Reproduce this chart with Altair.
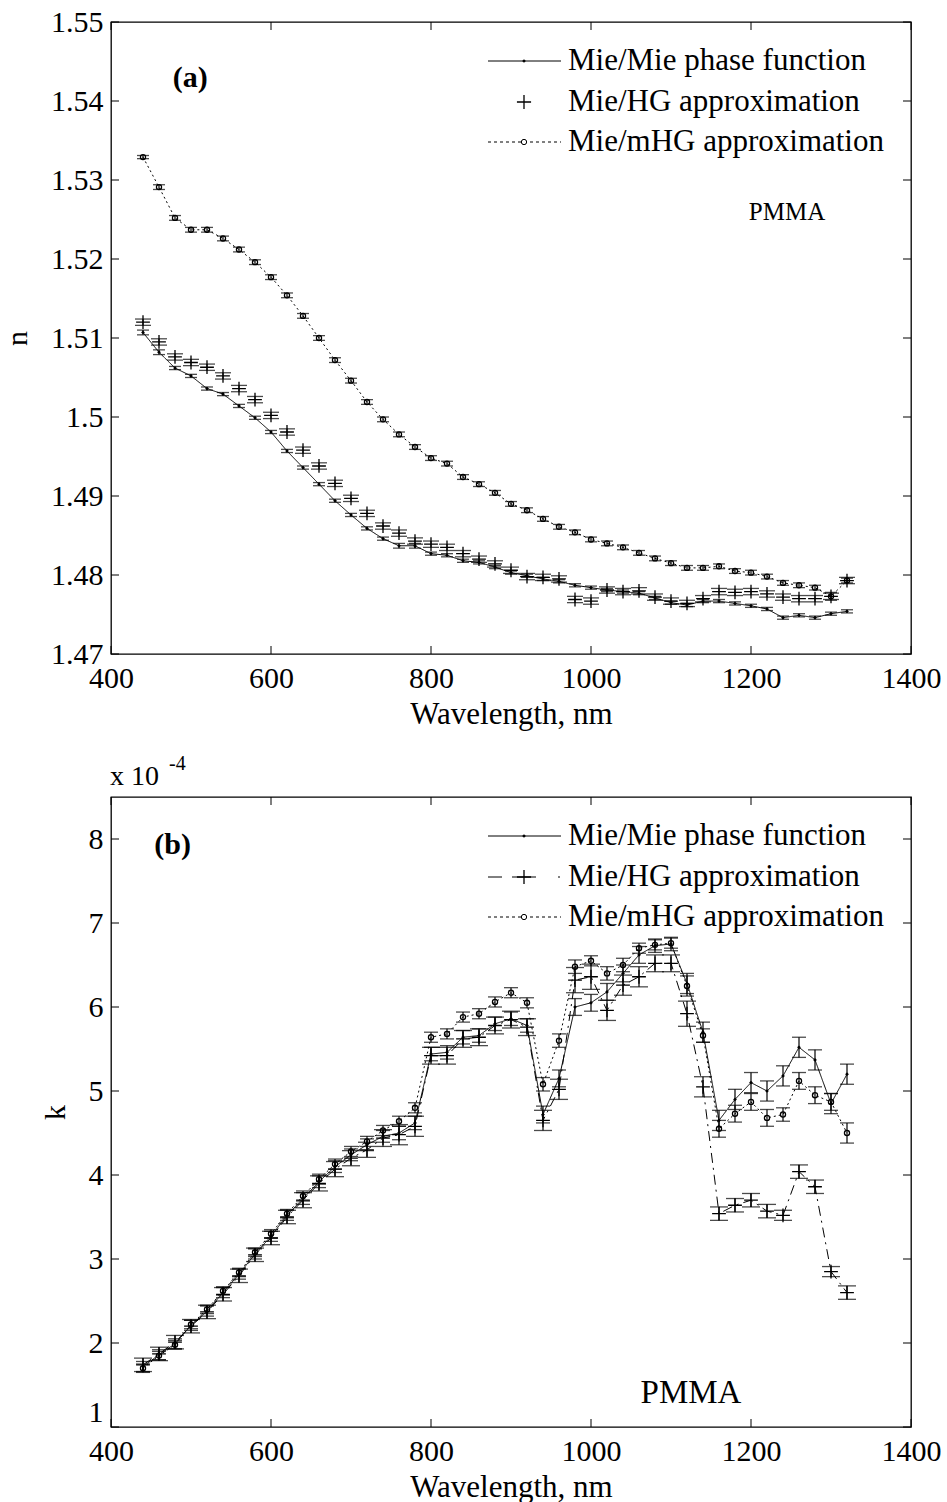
import altair as alt
import pandas as pd

# ---------------- data ----------------
wl = list(range(440, 1321, 20))  # 45 wavelengths, nm

n_mie = [1.5107, 1.5082, 1.5062, 1.5052, 1.5036, 1.5029, 1.5014, 1.4999, 1.4981, 1.4957,
         1.4936, 1.4915, 1.4894, 1.4876, 1.4859, 1.4846, 1.4837, 1.4837, 1.4827, 1.4825,
         1.4818, 1.4816, 1.4810, 1.4803, 1.4799, 1.4795, 1.4792, 1.4787, 1.4784, 1.4781,
         1.4779, 1.4777, 1.4771, 1.4765, 1.4762, 1.4767, 1.4767, 1.4764, 1.4761, 1.4757,
         1.4746, 1.4749, 1.4746, 1.4751, 1.4754]
n_hg = [1.5120, 1.5095, 1.5076, 1.5069, 1.5063, 1.5052, 1.5036, 1.5022, 1.5002, 1.4981,
        1.4958, 1.4938, 1.4916, 1.4897, 1.4878, 1.4862, 1.4853, 1.4843, 1.4839, 1.4835,
        1.4827, 1.4820, 1.4814, 1.4806, 1.4798, 1.4797, 1.4795, 1.4769, 1.4767, 1.4781,
        1.4779, 1.4780, 1.4772, 1.4767, 1.4764, 1.4770, 1.4779, 1.4778, 1.4779, 1.4776,
        1.4772, 1.4770, 1.4770, 1.4773, 1.4793]
n_mhg = [1.5329, 1.5291, 1.5252, 1.5237, 1.5237, 1.5226, 1.5212, 1.5196, 1.5177, 1.5154,
         1.5128, 1.5100, 1.5072, 1.5046, 1.5019, 1.4997, 1.4978, 1.4962, 1.4948, 1.4941,
         1.4924, 1.4915, 1.4904, 1.4890, 1.4882, 1.4871, 1.4861, 1.4854, 1.4845, 1.4840,
         1.4835, 1.4828, 1.4821, 1.4815, 1.4809, 1.4809, 1.4811, 1.4805, 1.4803, 1.4798,
         1.4790, 1.4787, 1.4784, 1.4773, 1.4793]

n_err_mie = [0.0003, 0.0003, 0.0002, 0.0002, 0.0002, 0.0002, 0.0002, 0.0002, 0.0002, 0.0002,
             0.0002, 0.0002, 0.0002, 0.0002, 0.0002, 0.0002, 0.0003, 0.0003, 0.0002, 0.0002,
             0.0002, 0.0002, 0.0002, 0.0002, 0.0002, 0.0002, 0.0002, 0.0002, 0.0002, 0.0002,
             0.0002, 0.0002, 0.0002, 0.0002, 0.0002, 0.0002, 0.0002, 0.0002, 0.0002, 0.0002,
             0.0002, 0.0002, 0.0002, 0.0002, 0.0002]
n_err_hg = [0.0004, 0.0004, 0.0004, 0.0004, 0.0004, 0.0004, 0.0004, 0.0004, 0.0004, 0.0004,
            0.0004, 0.0004, 0.0004, 0.0004, 0.0004, 0.0004, 0.0004, 0.0004, 0.0004, 0.0004,
            0.0004, 0.0004, 0.0004, 0.0004, 0.0004, 0.0004, 0.0004, 0.0004, 0.0004, 0.0004,
            0.0004, 0.0004, 0.0004, 0.0004, 0.0004, 0.0004, 0.0004, 0.0004, 0.0004, 0.0004,
            0.0004, 0.0004, 0.0004, 0.0004, 0.0004]
n_err_mhg = [0.0002, 0.0003, 0.0003, 0.0003, 0.0003, 0.0003, 0.0003, 0.0003, 0.0003, 0.0003,
             0.0003, 0.0003, 0.0003, 0.0003, 0.0003, 0.0003, 0.0003, 0.0003, 0.0003, 0.0003,
             0.0003, 0.0003, 0.0003, 0.0003, 0.0003, 0.0003, 0.0003, 0.0003, 0.0003, 0.0003,
             0.0003, 0.0003, 0.0003, 0.0003, 0.0003, 0.0003, 0.0003, 0.0003, 0.0003, 0.0003,
             0.0003, 0.0003, 0.0003, 0.0005, 0.0003]

k_mie = [1.72, 1.86, 1.99, 2.21, 2.38, 2.60, 2.82, 3.06, 3.27, 3.52,
         3.72, 3.92, 4.10, 4.24, 4.36, 4.46, 4.50, 4.62, 5.44, 5.46,
         5.64, 5.66, 5.80, 5.86, 5.78, 4.72, 5.15, 6.00, 6.05, 6.18,
         6.40, 6.62, 6.73, 6.75, 6.28, 5.70, 4.65, 4.90, 5.10, 5.00,
         5.18, 5.52, 5.37, 4.85, 5.20]
k_hg = [1.74, 1.87, 2.01, 2.20, 2.37, 2.58, 2.80, 3.05, 3.25, 3.50,
        3.70, 3.90, 4.07, 4.20, 4.30, 4.44, 4.48, 4.58, 5.42, 5.42,
        5.62, 5.64, 5.78, 5.85, 5.76, 4.65, 5.02, 6.32, 6.36, 5.96,
        6.26, 6.36, 6.52, 6.52, 5.92, 5.05, 3.54, 3.64, 3.70, 3.57,
        3.52, 4.04, 3.86, 2.85, 2.60]
k_mhg = [1.70, 1.85, 1.98, 2.22, 2.40, 2.62, 2.84, 3.08, 3.30, 3.54,
         3.75, 3.95, 4.13, 4.28, 4.40, 4.53, 4.64, 4.80, 5.64, 5.68,
         5.88, 5.92, 6.06, 6.17, 6.05, 5.08, 5.60, 6.48, 6.55, 6.40,
         6.50, 6.70, 6.74, 6.76, 6.25, 5.66, 4.55, 4.73, 4.87, 4.68,
         4.72, 5.12, 4.95, 4.87, 4.50]

k_err_mie = [0.06, 0.06, 0.06, 0.06, 0.06, 0.06, 0.06, 0.06, 0.06, 0.06,
             0.07, 0.07, 0.07, 0.07, 0.07, 0.07, 0.08, 0.08, 0.08, 0.08,
             0.08, 0.08, 0.08, 0.08, 0.08, 0.10, 0.10, 0.10, 0.10, 0.10,
             0.10, 0.10, 0.08, 0.08, 0.12, 0.12, 0.12, 0.12, 0.12, 0.12,
             0.12, 0.12, 0.12, 0.12, 0.12]
k_err_hg = [0.08, 0.08, 0.08, 0.08, 0.08, 0.08, 0.08, 0.08, 0.08, 0.08,
            0.09, 0.09, 0.09, 0.09, 0.09, 0.10, 0.12, 0.12, 0.10, 0.10,
            0.10, 0.10, 0.10, 0.10, 0.10, 0.12, 0.12, 0.15, 0.15, 0.12,
            0.12, 0.12, 0.10, 0.10, 0.15, 0.12, 0.08, 0.08, 0.08, 0.08,
            0.06, 0.08, 0.08, 0.06, 0.08]
k_err_mhg = [0.05, 0.05, 0.05, 0.05, 0.05, 0.05, 0.05, 0.05, 0.05, 0.05,
             0.06, 0.06, 0.06, 0.06, 0.06, 0.06, 0.06, 0.06, 0.06, 0.06,
             0.06, 0.06, 0.06, 0.06, 0.06, 0.08, 0.08, 0.08, 0.06, 0.08,
             0.08, 0.06, 0.06, 0.06, 0.12, 0.08, 0.10, 0.10, 0.10, 0.10,
             0.08, 0.10, 0.10, 0.10, 0.12]

x_ticks = [400, 600, 800, 1000, 1200, 1400]
n_ticks = [1.47, 1.48, 1.49, 1.50, 1.51, 1.52, 1.53, 1.54, 1.55]
k_ticks = [1, 2, 3, 4, 5, 6, 7, 8]

legend_labels = ["Mie/Mie phase function", "Mie/HG approximation", "Mie/mHG approximation"]

# ---------------- style ----------------
FONT = "Liberation Serif"
W = 800
HA = 632
HB = 630
PLUS = "M-1,0L1,0M0,-1L0,1"


def frame(vals, errs):
    return pd.DataFrame({
        "wl": wl,
        "v": vals,
        "lo": [a - e for a, e in zip(vals, errs)],
        "hi": [a + e for a, e in zip(vals, errs)],
    })


def panel(series, y_dom, y_ticks, y_title, y_fmt, H, legend_rows,
          tag, tag_pos, pmma, pmma_pos, pmma_size, sci_note, y_flush):
    xs = alt.Scale(domain=[400, 1400], nice=False, zero=False)
    ys = alt.Scale(domain=y_dom, nice=False, zero=False)
    xax = alt.Axis(values=x_ticks, title="Wavelength, nm", ticks=False, domain=False,
                   grid=False, format="d", labelPadding=9, titlePadding=6, labelFlush=False,
                   labelFont=FONT, labelFontSize=30, labelColor="black",
                   titleFont=FONT, titleFontSize=31, titleFontWeight="normal", titleColor="black")
    yax = alt.Axis(values=y_ticks, title=y_title, ticks=False, domain=False, grid=False,
                   format=y_fmt, labelPadding=8, titlePadding=18, labelFlush=y_flush,
                   labelFont=FONT, labelFontSize=30, labelColor="black",
                   titleFont=FONT, titleFontSize=30, titleFontWeight="normal", titleColor="black")

    def X(f):
        return alt.X(f, type="quantitative", scale=xs, axis=xax)

    def Y(f):
        return alt.Y(f, type="quantitative", scale=ys, axis=yax)

    layers = []
    for name, df, line_dash, shape, size, filled, cap in series:
        base = alt.Chart(df)
        if line_dash is not None:
            layers.append(base.mark_line(color="black", strokeWidth=1, strokeDash=line_dash)
                          .encode(x=X("wl"), y=Y("v")))
        layers.append(base.mark_rule(color="black", strokeWidth=1.2)
                      .encode(x=X("wl"), y=Y("lo"), y2="hi"))
        layers.append(base.mark_tick(color="black", orient="horizontal", size=cap, thickness=1.3)
                      .encode(x=X("wl"), y=Y("lo")))
        layers.append(base.mark_tick(color="black", orient="horizontal", size=cap, thickness=1.3)
                      .encode(x=X("wl"), y=Y("hi")))
        layers.append(base.mark_point(color="black", shape=shape, size=size, filled=filled,
                                      strokeWidth=1.3, opacity=1)
                      .encode(x=X("wl"), y=Y("v")))

    # inward tick marks on all four sides
    xt = pd.DataFrame({"wl": x_ticks})
    yt = pd.DataFrame({"v": y_ticks})
    layers.append(alt.Chart(xt).mark_rule(color="black", strokeWidth=1)
                  .encode(x=X("wl"), y=alt.value(H), y2=alt.value(H - 8)))
    layers.append(alt.Chart(xt).mark_rule(color="black", strokeWidth=1)
                  .encode(x=X("wl"), y=alt.value(0), y2=alt.value(8)))
    layers.append(alt.Chart(yt).mark_rule(color="black", strokeWidth=1)
                  .encode(y=Y("v"), x=alt.value(0), x2=alt.value(8)))
    layers.append(alt.Chart(yt).mark_rule(color="black", strokeWidth=1)
                  .encode(y=Y("v"), x=alt.value(W - 8), x2=alt.value(W)))

    # annotations
    ann = pd.DataFrame({"wl": [tag_pos[0]], "v": [tag_pos[1]], "t": [tag]})
    layers.append(alt.Chart(ann).mark_text(font=FONT, fontSize=30, fontWeight="bold",
                                           color="black", align="center", baseline="middle")
                  .encode(x=X("wl"), y=Y("v"), text="t"))
    ann2 = pd.DataFrame({"wl": [pmma_pos[0]], "v": [pmma_pos[1]], "t": [pmma]})
    layers.append(alt.Chart(ann2).mark_text(font=FONT, fontSize=pmma_size, color="black",
                                            align="center", baseline="middle")
                  .encode(x=X("wl"), y=Y("v"), text="t"))

    # legend (drawn in pixel space, top right)
    lx0, lx1, lxm, ltx = 377, 450, 413, 457
    for i, (label, kind) in enumerate(zip(legend_labels, legend_rows)):
        yy = [39, 80, 120][i]
        one = pd.DataFrame({"t": [label]})
        c = alt.Chart(one)
        if kind == "solid":
            layers.append(c.mark_rule(color="black", strokeWidth=1)
                          .encode(x=alt.value(lx0), x2=alt.value(lx1), y=alt.value(yy)))
            layers.append(c.mark_point(color="black", shape="diamond", size=14, filled=True, opacity=1)
                          .encode(x=alt.value(lxm), y=alt.value(yy)))
        elif kind == "plus":
            layers.append(c.mark_point(color="black", shape=PLUS, size=200, filled=False,
                                       strokeWidth=1.3, opacity=1)
                          .encode(x=alt.value(lxm), y=alt.value(yy)))
        elif kind == "dashdot":
            layers.append(c.mark_rule(color="black", strokeWidth=1, strokeDash=[14, 56, 2, 20])
                          .encode(x=alt.value(lx0), x2=alt.value(lx1), y=alt.value(yy)))
            layers.append(c.mark_rule(color="black", strokeWidth=1)
                          .encode(x=alt.value(lxm - 12), x2=alt.value(lxm + 12), y=alt.value(yy)))
            layers.append(c.mark_point(color="black", shape=PLUS, size=200, filled=False,
                                       strokeWidth=1.3, opacity=1)
                          .encode(x=alt.value(lxm), y=alt.value(yy)))
        else:
            layers.append(c.mark_rule(color="black", strokeWidth=1, strokeDash=[3, 3])
                          .encode(x=alt.value(lx0), x2=alt.value(lx1), y=alt.value(yy)))
            layers.append(c.mark_point(color="black", shape="circle", size=28, filled=False,
                                       strokeWidth=1, opacity=1, fill="white")
                          .encode(x=alt.value(lxm), y=alt.value(yy)))
        layers.append(c.mark_text(font=FONT, fontSize=31, color="black", align="left",
                                  baseline="middle")
                      .encode(x=alt.value(ltx), y=alt.value(yy), text="t"))

    if sci_note:
        sn = pd.DataFrame({"t": ["x 10"], "s": ["-4"]})
        layers.append(alt.Chart(sn).mark_text(font=FONT, fontSize=28, color="black",
                                              align="left", baseline="alphabetic")
                      .encode(x=alt.value(-1), y=alt.value(-12), text="t"))
        layers.append(alt.Chart(sn).mark_text(font=FONT, fontSize=20, color="black",
                                              align="left", baseline="alphabetic")
                      .encode(x=alt.value(58), y=alt.value(-27), text="s"))

    return alt.layer(*layers).properties(width=W, height=H)


dfa = [
    ("mie", frame(n_mie, n_err_mie), [1, 0], "diamond", 14, True, 12),
    ("hg", frame(n_hg, n_err_hg), None, PLUS, 190, False, 16),
    ("mhg", frame(n_mhg, n_err_mhg), [2, 3], "circle", 26, False, 12),
]
dfb = [
    ("mie", frame(k_mie, k_err_mie), [1, 0], "diamond", 14, True, 14),
    ("hg", frame(k_hg, k_err_hg), [10, 5, 2, 5], PLUS, 190, False, 18),
    ("mhg", frame(k_mhg, k_err_mhg), [2, 3], "circle", 26, False, 14),
]

pa = panel(dfa, [1.47, 1.55], n_ticks, "n", ".2~f", HA,
           ["solid", "plus", "dotted"], "(a)", (499, 1.5429), "PMMA", (1245, 1.5259), 25,
           False, False)
pb = panel(dfb, [1, 8.5], k_ticks, "k", "d", HB,
           ["solid", "dashdot", "dotted"], "(b)", (477, 7.925), "PMMA", (1125, 1.40), 33,
           True, True)

chart = alt.vconcat(pa, pb, spacing=23).properties(
    padding={"left": 1, "top": 6, "right": 5, "bottom": 0},
    background="white"
).configure_view(stroke="black", strokeWidth=1.3)

chart.save("out.html", embed_options={"renderer": "svg", "actions": False})
